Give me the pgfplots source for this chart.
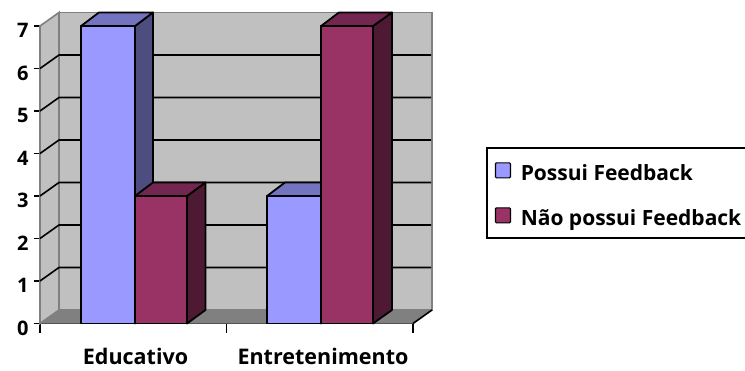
\documentclass[border=0pt]{standalone}
\usepackage{pgfplots}
\usepackage{fontspec}
\setmainfont{Open Sans}
\pgfplotsset{compat=1.18}
\definecolor{wall}{HTML}{C0C0C0}
\definecolor{floorc}{HTML}{808080}
\definecolor{blueF}{HTML}{9999FF}
\definecolor{blueT}{HTML}{7373BF}
\definecolor{blueS}{HTML}{4D4D80}
\definecolor{marF}{HTML}{993366}
\definecolor{marT}{HTML}{732650}
\definecolor{marS}{HTML}{4D1933}
% One box: #1 left, #2 right, #3 left+depth, #4 right+depth, #5 value, #6 value+depth,
% #7 front colour, #8 top colour, #9 side colour
\newcommand{\boxbar}[9]{%
  \addplot[forget plot,draw=black,line width=1.8pt,line join=round,fill=#9]
    coordinates {(#2,0)(#4,0.318)(#4,#6)(#2,#5)} -- cycle;
  \addplot[forget plot,draw=black,line width=1.8pt,line join=round,fill=#8]
    coordinates {(#1,#5)(#2,#5)(#4,#6)(#3,#6)} -- cycle;
  \addplot[forget plot,draw=black,line width=1.8pt,line join=round,fill=#7]
    coordinates {(#1,0)(#2,0)(#2,#5)(#1,#5)} -- cycle;
}
\begin{document}
\begin{tikzpicture}
\begin{axis}[
  at={(0pt,0pt)},anchor=south west,
  scale only axis,width=373pt,height=297.5pt,
  xmin=40,xmax=413,ymin=0,ymax=7,
  clip=false,
  axis lines*=left,
  axis line style={-,black,line width=1.7pt},
  every tick/.style={black,line width=1.7pt},
  tick align=outside,
  major tick length=6pt,
  xtick={40,226.5,413},
  xticklabels={,,},
  x tick style={black,line width=1.7pt,yscale=1.5},
  extra x ticks={135.5,323},
  extra x tick labels={Educativo,Entretenimento},
  extra x tick style={major tick length=0pt,tick style={draw=none},
    xticklabel style={font=\bfseries\fontsize{21.5}{24}\selectfont,anchor=base,yshift=-41pt}},
  ytick={0,1,2,3,4,5,6,7},
  yticklabel style={font=\bfseries\fontsize{20}{22}\selectfont,/pgf/number format/assume math mode=true,xshift=-2pt,yshift=-4.5pt},
  legend cell align=left,
  legend style={at={(axis cs:486,4.153)},anchor=north west,draw=black,line width=1.7pt,
    font=\bfseries\fontsize{21}{24}\selectfont,row sep=8pt,inner xsep=8pt,inner ysep=4pt,
    nodes={inner ysep=0pt,text height=28.5pt,text depth=8.5pt}},
  legend image code/.code={
    \draw[#1,line width=1.2pt,rounded corners=1pt] (0pt,-7.5pt) rectangle (15pt,7.5pt);
    \path (22.5pt,0pt);},
]
% walls and floor
\addplot[forget plot,fill=wall,draw=floorc,line width=1.6pt] coordinates {(40,0)(59,0.318)(59,7.318)(40,7)} -- cycle;
\addplot[forget plot,fill=wall,draw=floorc,line width=1.6pt] coordinates {(59,0.318)(432,0.318)(432,7.318)(59,7.318)} -- cycle;
\addplot[forget plot,fill=floorc,draw=none] coordinates {(40,0)(413,0)(432,0.318)(59,0.318)} -- cycle;
% gridlines on the back wall and their slanted run on the side wall
\addplot[forget plot,black,line width=1.6pt] coordinates {(40,1)(59,1.318)(431,1.318)};
\addplot[forget plot,black,line width=1.6pt] coordinates {(40,2)(59,2.318)(431,2.318)};
\addplot[forget plot,black,line width=1.6pt] coordinates {(40,3)(59,3.318)(431,3.318)};
\addplot[forget plot,black,line width=1.6pt] coordinates {(40,4)(59,4.318)(431,4.318)};
\addplot[forget plot,black,line width=1.6pt] coordinates {(40,5)(59,5.318)(431,5.318)};
\addplot[forget plot,black,line width=1.6pt] coordinates {(40,6)(59,6.318)(431,6.318)};
\addplot[forget plot,black,line width=1.6pt] coordinates {(413,0)(432,0.318)};
% bars
\boxbar{81}{135}{99}{153}{7}{7.318}{blueF}{blueT}{blueS}
\boxbar{135}{187}{153}{205.5}{3}{3.318}{marF}{marT}{marS}
\boxbar{267}{321}{285}{339}{3}{3.318}{blueF}{blueT}{blueS}
\boxbar{321}{373}{339}{392}{7}{7.318}{marF}{marT}{marS}
% legend
\addlegendimage{fill=blueF,draw=black}
\addlegendentry{Possui Feedback}
\addlegendimage{fill=marF,draw=black}
\addlegendentry{Não possui Feedback}
\end{axis}
\pgfresetboundingbox
\path[use as bounding box] (-40pt,-46.5pt) rectangle (705pt,323.5pt);
\end{tikzpicture}
\end{document}
